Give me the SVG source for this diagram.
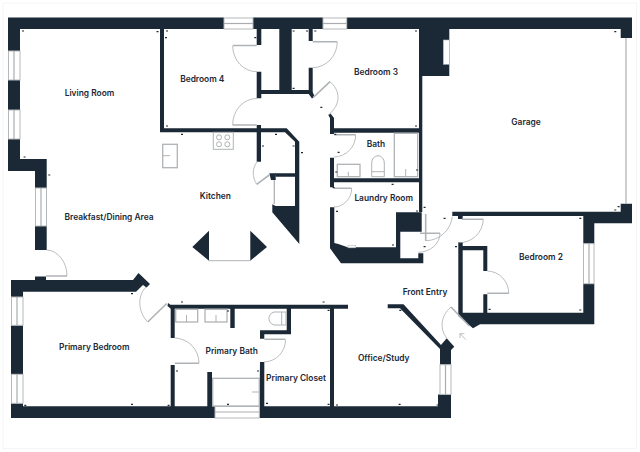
<svg xmlns="http://www.w3.org/2000/svg" width="640" height="452" viewBox="0 0 640 452">
<style>
.w{fill:#1b2836}
.f{fill:#fff;stroke:#b4b8bb;stroke-width:1}
.d{fill:none;stroke:#a9adb0;stroke-width:.8}
.l{fill:none;stroke:#b0b3b6;stroke-width:1.6}
.x{fill:none;stroke:#a9adb0;stroke-width:1.2}
.t{fill:none;stroke:#1b2836;stroke-width:1.2}
text{font-family:"Inter","Liberation Sans",sans-serif;font-size:8.4px;font-weight:600;fill:#1b2836;text-anchor:middle}
</style>
<rect width="640" height="452" fill="#fff"/>
<rect x="3" y="3" width="633.5" height="445.500" fill="none" stroke="#f5f5f5"/>
<g id="walls">
<path class="w" d="M8 17.500H224V29H20V51H8Z M253 17.500H323V29H253Z M346.700 17.500H632V38H620.700V29H449.300V76H422.300V212H419V29H346.700Z M8 80H20V110H8Z M8 139H20V159H46.700V188H35V171H8Z M35 226H46.700V250H35Z"/>
<path class="w" d="M160 29H164V128.300H286.700L299.300 141.700V244L272.300 212.300V204.300L275.700 206H295V176.700H275.700L275 173.300H295V141.700L285 132.300H160Z"/>
<path class="w" d="M256.700 29H261.300V45H256.700Z M256.700 71.700H261.300V90H308.700V67.700H312.700V92L314.500 96.500L312 98.500L308.700 94H261.300V98.300H256.700Z M279.300 29H291.700V90H279.300Z M308.700 29H312.700V41H308.700Z"/>
<path class="w" d="M256.700 125H261V161.700H256.700Z M269.300 173.300H275.700V180H271Z"/>
<path class="w" d="M328.300 115L330.500 113.500L334 118V128.300H420V132.700H334V134H330V118Z M330 157.700H334V178.300H420V182.300H334V187.300H330Z M330 207.300H334.300V243L338.300 244L347.700 247.300H396V212.300H421.700V231.700H400.300V258.300H418.300V253.300H423.300V263.300H341L330 248.300Z"/>
<path class="w" d="M452.300 211.700H620.700V203.700H632V223.300H594.300V243.700H583.300V216H452.300Z M458 216H462.700V219H458Z"/>
<path class="w" d="M583.300 283.700H594.300V324.300H480L473 328.300L458.300 316V242H462.700V246H487.300V271H483.300V250.300H462.700V312.700H483.300V294.300H487.300V312.700H583.300Z"/>
<path class="w" d="M11 280H35V276.500H46V280H133L138.500 273L150 284L146.500 287.500L143 285L136 291.700H23V297H11Z M11 325.300H23V374.300H11Z M11 403.300H23V406.300H170.700V365H174.700V406.300H207.300V372H212V406.300H215V418H11Z"/>
<path class="w" d="M168 303L170.500 304.700H348V308.700H234.700V328H230.300V308.700H174.700V338H170.700V308.700L167.500 306Z M286.700 308.700H291V334.300H264.300V338.700H260V330.300H286.700Z M260 362H264.300V406.300H330V308.700H334V406.300H438V394.400H451V418H259.300Z M387.700 304.300H403.500L441 345L446.700 338.300L454.300 346.700L451 350V364.700H440V349L400 308.300H387.700Z"/>
</g>
<g id="windows">
<rect class="f" x="224" y="18" width="29" height="11"/><path class="x" d="M224 23.500H253"/>
<rect class="f" x="323" y="18" width="23.700" height="11"/><path class="x" d="M323 23.500H346.700"/>
<rect class="f" x="8.500" y="51" width="11.500" height="29"/><path class="x" d="M14 51V80"/>
<rect class="f" x="8.500" y="110" width="11.500" height="29"/><path class="x" d="M14 110V139"/>
<rect class="f" x="35.500" y="188" width="11" height="38"/><path class="x" d="M41 188V226"/>
<rect class="f" x="11.500" y="297" width="11.500" height="28.300"/><path class="x" d="M17 297V325.300"/>
<rect class="f" x="11.500" y="374.300" width="11.500" height="29"/><path class="x" d="M17 374.300V403.300"/>
<rect class="f" x="215" y="406.500" width="44.300" height="11.500"/><path class="x" d="M215 412H259.300"/>
<rect class="f" x="440" y="364.700" width="11" height="29.700"/><path class="x" d="M445.500 364.700V394.400"/>
<rect class="f" x="583.500" y="243.700" width="10.500" height="40"/><path class="x" d="M589 243.700V283.700"/>
<rect x="443.300" y="40" width="6" height="24.300" fill="#fff" stroke="#b4b8bb" stroke-width=".6"/>
<path class="x" d="M626 38V203.700"/>
<rect x="348" y="245.500" width="7.700" height="2.300" fill="#fff" stroke="#b4b8bb" stroke-width=".6"/>
</g>
<g id="doors">
<path class="l" d="M232.700 45.500H256.700 M232.700 125H256.700 M312.700 41.700H337.300 M313.300 97.300L330 81.700 M334 134.700H355.700 M334 188.300H351.700 M256.700 184.300L269.300 175 M46 276H67 M174.700 363.300H199 M264.300 339.300H285.500 M166.700 303.500L147.700 322 M487.300 293.300H508.700 M451 307L469.300 326 M461.700 219.300H483.300 M425.700 214V240.700 M420 233.300H440"/>
<path class="d" d="M232.700 46A24 26 0 0 0 257 71.700 M257 98.500A24 26 0 0 0 232.700 125 M337.300 42A25 26 0 0 1 312.700 67.700 M330 81.700C340 90 342 104 328.300 115 M355.700 135A22 22 0 0 1 334 157 M351.700 188.500A18 19 0 0 1 334 207 M257.300 161.700C252 168 252 177 256.700 184.300 M46.700 250A21 26 0 0 1 67 276 M146 287C137 296 138 312 147.700 322 M174.700 338A25 25 0 0 1 199 363 M285.500 340A22 22 0 0 1 264 362 M487.300 271A22 22 0 0 1 508.700 293.700 M483.300 219.300A24 24 0 0 1 458.300 242.700 M452.300 216.700A27 27 0 0 1 425.700 240.700 M440 233.300A22 19 0 0 1 418.300 252.300 M451 307C440 316 440 330 446.700 338"/>
<path class="d" stroke-width="1" d="M465.700 339.500L460 333.700M460 333.700V338M460 333.700H464.300"/>
</g>
<g id="fixtures" class="d">
<g fill="none" stroke="#b0b3b6" stroke-width="1">
<rect x="213.300" y="132.300" width="20" height="17"/>
<circle cx="219" cy="137.300" r="2.500"/><circle cx="227.300" cy="137.300" r="2.500"/><circle cx="219" cy="144.300" r="2.500"/><circle cx="227.300" cy="144.300" r="2.500"/>
<rect x="162.700" y="144.300" width="14.600" height="23.400" stroke-width="1.300"/><path d="M163 155.700H170"/>
<rect x="394.300" y="133.300" width="23.400" height="43.400" stroke-width="1.300"/><path d="M405.700 169V176.700"/>
<rect x="337.300" y="164.300" width="22.700" height="12.400" stroke-width="1.300"/><path d="M348.300 171.700V176.700"/>
<path d="M371.700 176.700V163A6.300 7.300 0 0 1 384.300 163V176.700Z M371.700 171.700H384.300"/>
<path d="M274.300 180V204" stroke-width="1.300"/>
<rect x="175.700" y="309.300" width="22" height="12.700" stroke-width="1.300"/><path d="M186.500 315V322"/>
<rect x="205" y="309.300" width="22" height="12.700" stroke-width="1.300"/><path d="M216 315V322"/>
<path d="M286 312H274A8 7 0 0 0 274 325H286Z M281.700 312V325"/>
<rect x="212.700" y="378.300" width="46.600" height="27.700" stroke-width="1.300"/><path d="M252 392H259"/>
<path d="M209 260.700H250.300"/>
</g>
</g>
<g id="island">
<path class="w" d="M192.300 247L209 230.700V260.700Z M250.300 230.700L267 247L250.300 260.700Z"/>
</g>
<g id="ticks">
<path class="t" d="M22 31h2 M156.500 31.700h2 M166 31h2 M165 37.700h2 M254.300 37.700h2 M292.600 31h2 M306 31h2 M314.300 31h2 M292.600 88.300h2 M166 126h2 M181 134.300h2 M275 134.300h2 M262 146h2 M292.600 146h2 M301 152.700h2 M23.600 157h2 M48.300 175h2 M415 31h2 M614.300 31.700h2 M415 126h2 M334.300 134.300h2 M337.600 152.300h2 M335.300 172h2 M416 170h2 M391.600 184.300h2 M332.600 187.700h2 M336 211.300h2 M416 211h2 M423.600 207.300h2 M443.600 218.300h2 M614.300 210h2 M617.600 206.700h2 M579.300 218.300h2 M131 293.700h2 M181 302h2 M171 309.300h2 M227 311h2 M176 371h2 M257 371h2 M24.300 405.300h2 M131 404.300h2 M167.600 405.300h2 M227 404.300h2 M266 403.300h2 M322.600 302h2 M327.600 310.300h2 M399.300 310.300h2 M488.600 309.300h2 M579.300 310h2 M327.600 404.300h2 M336 405h2 M398.600 404.300h2 M436.600 405h2 M423.600 246.700h2 M455 246.700h2 M392 245h2 M320.300 107.300h2"/>
</g>
<g id="labels">
<text x="89.500" y="95.800">Living Room</text>
<text x="202.300" y="82">Bedroom 4</text>
<text x="376" y="75.400">Bedroom 3</text>
<text x="526" y="124.600">Garage</text>
<text x="376" y="147">Bath</text>
<text x="383.700" y="201">Laundry Room</text>
<text x="215.300" y="199">Kitchen</text>
<text x="109" y="220">Breakfast/Dining Area</text>
<text x="541" y="259.600">Bedroom 2</text>
<text x="425" y="294.600">Front Entry</text>
<text x="94.300" y="350">Primary Bedroom</text>
<text x="231.700" y="354">Primary Bath</text>
<text x="296" y="380.600">Primary Closet</text>
<text x="383.700" y="361">Office/Study</text>
</g>
</svg>
